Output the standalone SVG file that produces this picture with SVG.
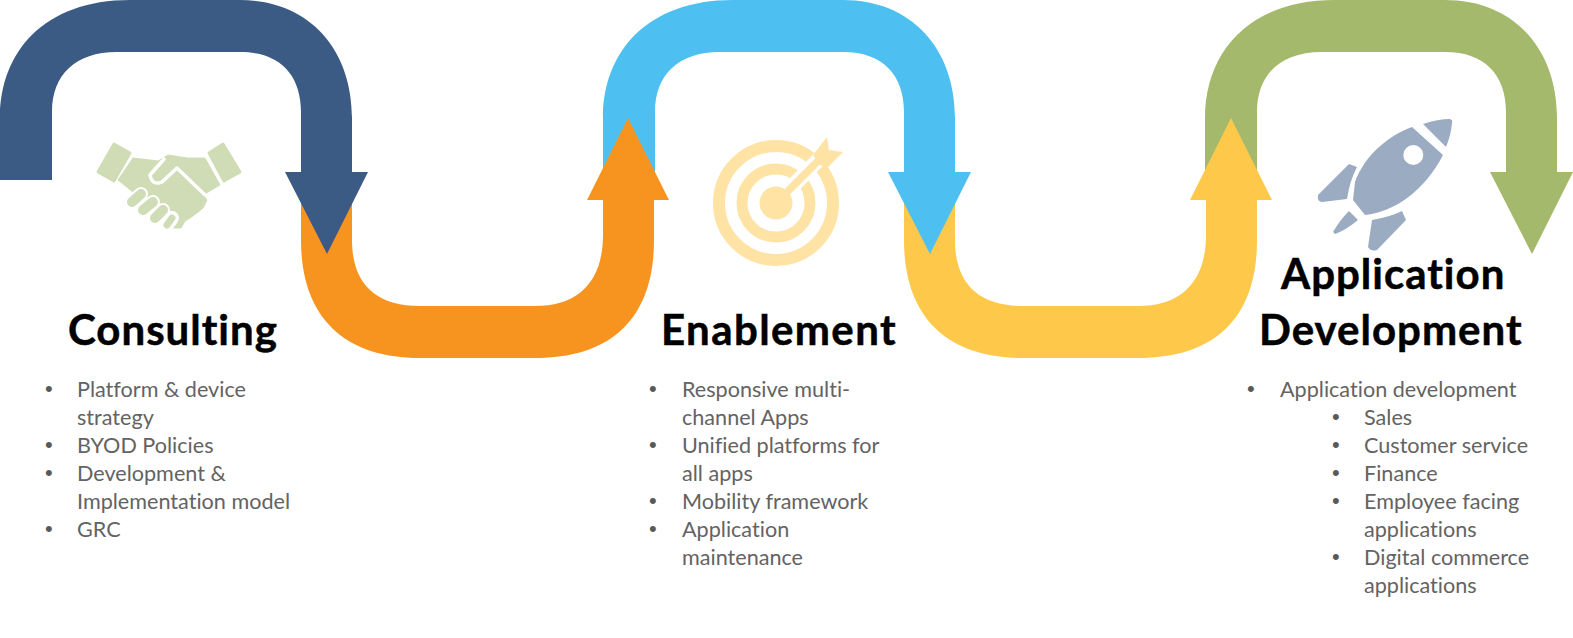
<svg xmlns="http://www.w3.org/2000/svg" xmlns:xlink="http://www.w3.org/1999/xlink" width="1573" height="638" viewBox="0 0 1573 638">
<style>
.h{font-family:Lato,"Open Sans",sans-serif;font-weight:700;font-size:42px;letter-spacing:1px;fill:#000;stroke:#000;stroke-width:.5px;font-variant-ligatures:none}
.b{font-family:Lato,"Open Sans",sans-serif;font-size:21.6px;fill:#636363;font-variant-ligatures:none}
.d{font-family:"Liberation Sans",sans-serif;font-size:22px;fill:#595959}
</style>
<defs>
<path id="arch" d="M0,180 L0,118 C0,52 44,0 130,0 L240,0 C308,0 352,48 352,118 L352,172 L368,172 L327,254 L285,172 L301,172 L301,112 C301,75 280,52 240,52 L117,52 C75,52 52,75 52,112 L52,180 Z"/>
<path id="ushape" d="M301,172 L301,240 C301,318 345,358 420,358 L535,358 C612,358 654,318 654,240 L654,200 L669,200 L628,118 L587,200 L603,200 L603,235 C603,282 578,306 535,306 L420,306 C376,306 352,284 352,240 L352,172 Z"/>
</defs>
<rect width="1573" height="638" fill="#fff"/>
<g id="connectors">
<use id="arrow-green" xlink:href="#arch" href="#arch" x="1205" fill="#a4b96c"/>
<use id="arrow-yellow" xlink:href="#ushape" href="#ushape" x="603" fill="#fec94b"/>
<use id="arrow-lightblue" xlink:href="#arch" href="#arch" x="603" fill="#4dc0f1"/>
<use id="arrow-orange" xlink:href="#ushape" href="#ushape" fill="#f79420"/>
<use id="arrow-blue" xlink:href="#arch" href="#arch" fill="#3b5b85"/>
</g>
<g id="consulting">
<g id="handshake-icon" fill="#d0dcb6">
<path d="M114,144 L130,153 L114,181 L98,172 Z" stroke="#d0dcb6" stroke-width="3" stroke-linejoin="round"/>
<path d="M223,144 L240,172 L224,181 L209,153 Z" stroke="#d0dcb6" stroke-width="3" stroke-linejoin="round"/>
<path d="M133,158 L158,161 L168,155 L187,158 L205,158 L220,185 L203,195 L207,200 L203,208 L197,213 L190,218 L185,221 L181,228 L173,228 L133,192 L118,180 Z" stroke="#d0dcb6" stroke-linejoin="round"/>
<path d="M205,195 L177,168 L162,182 Q152,186 150,175 L165,158" fill="none" stroke="#fff" stroke-width="3.5" stroke-linejoin="round"/>
<g fill="none" stroke-linecap="round">
<path d="M132,202 L141,194 M143,210 L153,202 M155,218 L163,210 M167,225 L172,218" stroke="#fff" stroke-width="14"/>
<path d="M132,202 L141,194 M143,210 L153,202 M155,218 L163,210" stroke="#d0dcb6" stroke-width="10"/>
<path d="M167,225 L172,218" stroke="#d0dcb6" stroke-width="7"/>
</g>
</g>
<text class="h" x="68" y="345">Consulting</text>
<text class="d" x="45" y="396">•</text><text class="b" x="77" y="397">Platform &amp; device</text>
<text class="b" x="77" y="425">strategy</text>
<text class="d" x="45" y="452">•</text><text class="b" x="77" y="453">BYOD Policies</text>
<text class="d" x="45" y="480">•</text><text class="b" x="77" y="481">Development &amp;</text>
<text class="b" x="77" y="509">Implementation model</text>
<text class="d" x="45" y="536">•</text><text class="b" x="77" y="537">GRC</text>
</g>
<g id="enablement">
<g id="target-icon">
<g fill="none" stroke="#fee3a5">
<circle cx="776" cy="203" r="57" stroke-width="12"/>
<circle cx="776" cy="203" r="34" stroke-width="11"/>
</g>
<path d="M776,203 L828,150" stroke="#fff" stroke-width="15" fill="none"/>
<circle cx="776" cy="203" r="16.5" fill="#fee3a5"/>
<path d="M776,203 L818,161" stroke="#fee3a5" stroke-width="7.5" fill="none"/>
<path d="M813,155 L827,137 L829,150 L843,152 L827,168 L820,165 Z" fill="#fee3a5"/>
</g>
<text class="h" x="661" y="345" style="letter-spacing:1.4px">Enablement</text>
<text class="d" x="649" y="396">•</text><text class="b" x="682" y="397">Responsive multi-</text>
<text class="b" x="682" y="425">channel Apps</text>
<text class="d" x="649" y="452">•</text><text class="b" x="682" y="453">Unified platforms for</text>
<text class="b" x="682" y="481">all apps</text>
<text class="d" x="649" y="508">•</text><text class="b" x="682" y="509">Mobility framework</text>
<text class="d" x="649" y="536">•</text><text class="b" x="682" y="537">Application</text>
<text class="b" x="682" y="565">maintenance</text>
</g>
<g id="application-development">
<g id="rocket-icon" fill="#9babc1">
<path fill-rule="evenodd" d="M1412,127 C1388,136 1365,155 1355,182 L1353,200 L1365,215 C1395,212 1425,190 1443,155 Z M1403.3,155 a10,10 0 1,0 20,0 a10,10 0 1,0 -20,0 Z"/>
<path d="M1423,124 Q1438,119 1450,119 Q1453,120 1452,123 Q1451,135 1446,147 Z"/>
<path d="M1357,167 L1349,164 L1318,195 Q1317,202 1322,202 L1347,199 Q1350,180 1357,167 Z"/>
<path d="M1402,211 L1406,220 L1377,250 Q1371,252 1368,247 L1372,220 Q1390,217 1402,211 Z"/>
<path d="M1349,211 L1358,220 Q1346,230 1335,234 L1333,232 Q1340,220 1349,211 Z"/>
</g>
<text class="h" x="1281" y="289">Application</text>
<text class="h" x="1259" y="345">Development</text>
<text class="d" x="1247" y="396">•</text><text class="b" x="1280" y="397">Application development</text>
<text class="d" x="1332" y="424">•</text><text class="b" x="1364" y="425">Sales</text>
<text class="d" x="1332" y="452">•</text><text class="b" x="1364" y="453">Customer service</text>
<text class="d" x="1332" y="480">•</text><text class="b" x="1364" y="481">Finance</text>
<text class="d" x="1332" y="508">•</text><text class="b" x="1364" y="509">Employee facing</text>
<text class="b" x="1364" y="537">applications</text>
<text class="d" x="1332" y="564">•</text><text class="b" x="1364" y="565">Digital commerce</text>
<text class="b" x="1364" y="593">applications</text>
</g>
</svg>
